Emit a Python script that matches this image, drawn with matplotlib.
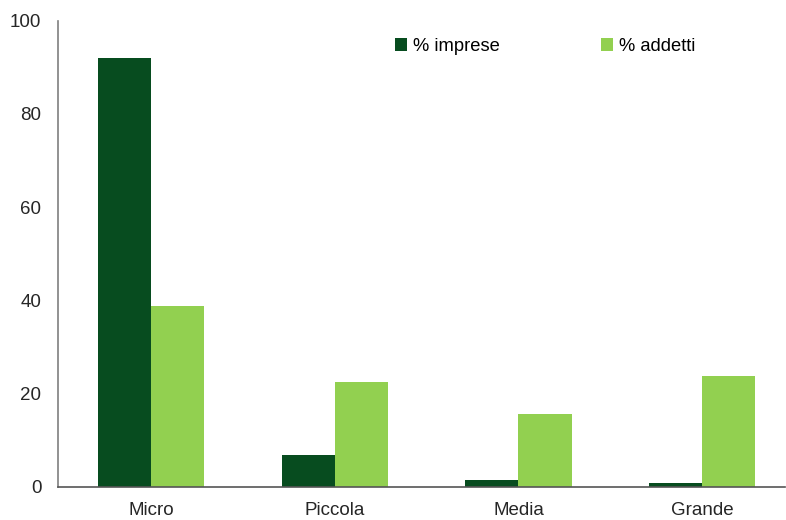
import numpy as np
import matplotlib.pyplot as plt

plt.rcParams['font.family'] = ['Liberation Sans', 'DejaVu Sans']

categories = ['Micro', 'Piccola', 'Media', 'Grande']
imprese = [92.0, 6.9, 1.5, 0.8]
addetti = [38.8, 22.4, 15.6, 23.8]

dark = '#074C1F'
light = '#92D050'

fig = plt.figure(figsize=(7.86, 5.2), dpi=100)
ax = fig.add_axes([0.074, 0.064, 0.925, 0.896])

x = np.arange(len(categories))
w = 0.29
ax.bar(x - w / 2, imprese, w, color=dark, label='% imprese')
ax.bar(x + w / 2, addetti, w, color=light, label='% addetti')

# the right end of the axis is slightly cut in the original
ax.set_xlim(-0.506, 3.452)
ax.set_ylim(0, 100)
ax.set_yticks([0, 20, 40, 60, 80, 100])
ax.set_xticks(x)
ax.set_xticklabels(categories)
ax.tick_params(axis='both', length=0, labelsize=13.5, colors='#262626')
ax.tick_params(axis='y', pad=12)
ax.tick_params(axis='x', pad=11)

for s in ['top', 'right']:
    ax.spines[s].set_visible(False)
ax.spines['left'].set_color('#7f7f7f')
ax.spines['bottom'].set_color('#555555')
ax.spines['left'].set_linewidth(1.2)
ax.spines['bottom'].set_linewidth(1.2)

ax.legend(loc='upper left', bbox_to_anchor=(0.44, 0.998), ncol=2, frameon=False,
          fontsize=13.2, handlelength=0.7, handleheight=0.7, handletextpad=0.3,
          columnspacing=5.5)

fig.savefig('out.png', dpi=100)
